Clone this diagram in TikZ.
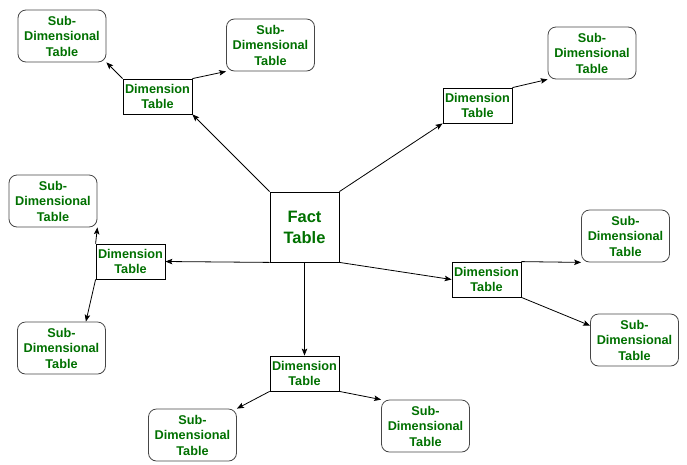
\documentclass[tikz,border=0pt]{standalone}
\usepackage{fontspec}
\setmainfont{Liberation Sans}
\usepackage{xcolor}
\usepackage{tikz}
\usetikzlibrary{calc}
\usetikzlibrary{arrows.meta}
\tikzset{>={Stealth[length=7pt,width=5.5pt,inset=1.5pt]}}
\definecolor{tabgreen}{RGB}{0,112,0}
\definecolor{subgray}{RGB}{70,70,70}

\begin{document}
\begin{tikzpicture}[x=1pt,y=-1pt,line width=0.8pt,
	every node/.style={align=center,text=tabgreen,inner sep=1pt},
	dimbox/.style={draw,minimum width=69pt,minimum height=35pt,font=\bfseries\fontsize{12.7}{15.5}\selectfont},
	subbox/.style={draw=subgray,rounded corners=8pt,minimum width=88pt,minimum height=52pt,font=\bfseries\fontsize{12.7}{15.5}\selectfont},
	factbox/.style={draw,minimum width=69pt,minimum height=70pt,font=\bfseries\fontsize{16.5}{21}\selectfont}]
	\useasboundingbox (0,0) rectangle (687,464);
	\node[factbox] (fact) at (304.5,227) {Fact\\Table};
	% dimension tables
	\node[dimbox] (dimtl) at (157.5,96.5) {Dimension\\Table};
	\node[dimbox] (dimtr) at (477.5,105.5) {Dimension\\Table};
	\node[dimbox] (diml) at (130.5,261.5) {Dimension\\Table};
	\node[dimbox] (dimr) at (486.5,279.5) {Dimension\\Table};
	\node[dimbox] (dimb) at (304.5,373.5) {Dimension\\Table};
	% sub-dimensional tables
	\node[subbox] (subtla) at (62,36) {Sub-\\Dimensional\\Table};
	\node[subbox] (subtlb) at (270.5,45) {Sub-\\Dimensional\\Table};
	\node[subbox] (subtr) at (592,53) {Sub-\\Dimensional\\Table};
	\node[subbox] (subla) at (53,201) {Sub-\\Dimensional\\Table};
	\node[subbox] (sublb) at (61.5,348) {Sub-\\Dimensional\\Table};
	\node[subbox] (subra) at (625.5,236) {Sub-\\Dimensional\\Table};
	\node[subbox] (subrb) at (634.5,340) {Sub-\\Dimensional\\Table};
	\node[subbox] (subba) at (192.5,435) {Sub-\\Dimensional\\Table};
	\node[subbox] (subbb) at (425.5,426) {Sub-\\Dimensional\\Table};
	% fact to dimensions
	\draw[->] (fact.north west)--(dimtl.south east);
	\draw[->] (fact.north east)--(dimtr.south west);
	\draw[->] (fact.south west)--(diml.east);
	\draw[->] (fact.south east)--(dimr.west);
	\draw[->] (fact.south)--(dimb.north);
	% dimensions to sub-dimensions
	\draw[->] (dimtl.north west)--(subtla.south east);
	\draw[->] (dimtl.north east)--(subtlb.south west);
	\draw[->] (dimtr.north east)--(subtr.south west);
	\draw[->] (diml.north west)--(subla.south east);
	\draw[->] (diml.south west)--([xshift=-20pt]sublb.north east);
	\draw[->] (dimr.north east)--(subra.south west);
	\draw[->] (dimr.south east)--([yshift=-12pt]subrb.north west);
	\draw[->] (dimb.south west)--(subba.north east);
	\draw[->] (dimb.south east)--(subbb.north west);
\end{tikzpicture}
\end{document}
